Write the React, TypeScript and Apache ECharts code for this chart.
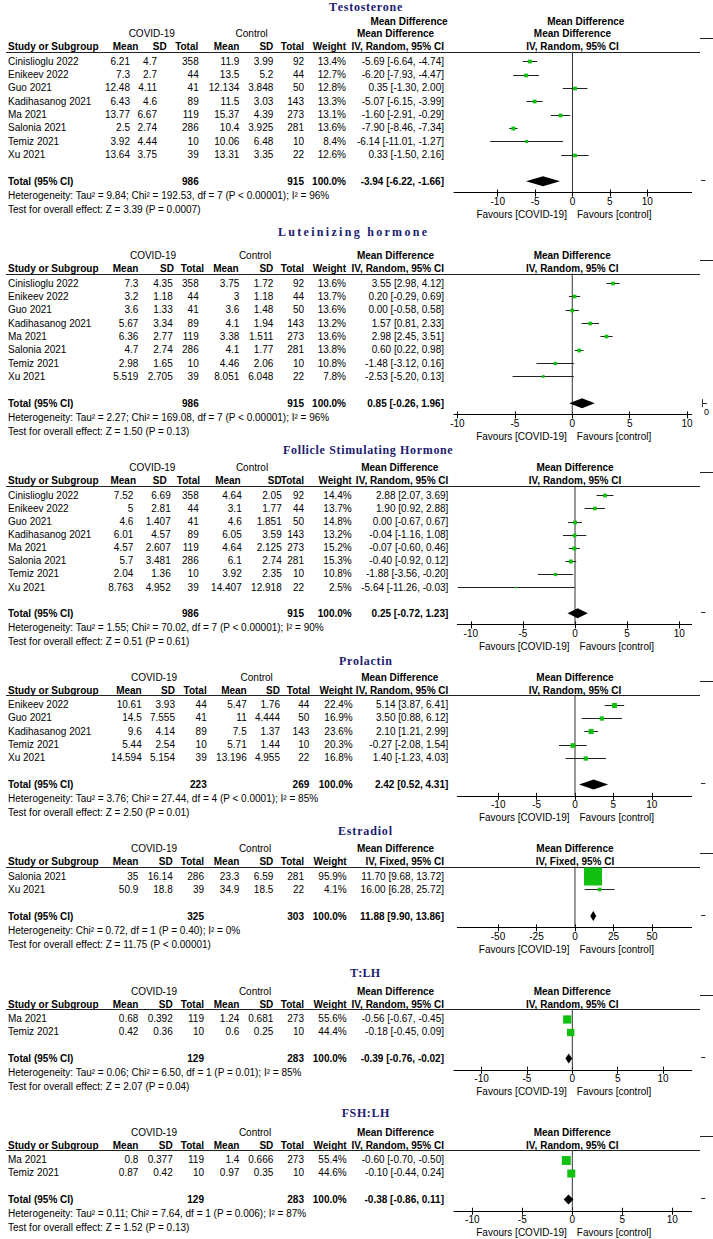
import React, { useEffect, useRef } from "react";
import * as echarts from "echarts";

// ---------------- DATA ----------------
const TICKS_10 = [-10, -5, 0, 5, 10];
const TICKS_50 = [-50, -25, 0, 25, 50];

// Testosterone
const TESTO_STUDY = ["Cinislioglu 2022", "Enikeev 2022", "Guo 2021", "Kadihasanog 2021", "Ma 2021", "Salonia 2021", "Temiz 2021", "Xu 2021"];
const TESTO_COVID = [[6.21, 4.7, 358], [7.3, 2.7, 44], [12.48, 4.11, 41], [6.43, 4.6, 89], [13.77, 6.67, 119], [2.5, 2.74, 286], [3.92, 4.44, 10], [13.64, 3.75, 39]];
const TESTO_CONTROL = [[11.9, 3.99, 92], [13.5, 5.2, 44], [12.134, 3.848, 50], [11.5, 3.03, 143], [15.37, 4.39, 273], [10.4, 3.925, 281], [10.06, 6.48, 10], [13.31, 3.35, 22]];
const TESTO_WEIGHT = [13.4, 12.7, 12.8, 13.3, 13.1, 13.6, 8.4, 12.6];
const TESTO_MD = [[-5.69, -6.64, -4.74], [-6.2, -7.93, -4.47], [0.35, -1.3, 2.0], [-5.07, -6.15, -3.99], [-1.6, -2.91, -0.29], [-7.9, -8.46, -7.34], [-6.14, -11.01, -1.27], [0.33, -1.5, 2.16]];
const TESTO_TOTAL_N = [986, 915];
const TESTO_POOLED = [-3.94, -6.22, -1.66];
const TESTO_HET = "Heterogeneity: Tau² = 9.84; Chi² = 192.53, df = 7 (P < 0.00001); I² = 96%";
const TESTO_Z = "Test for overall effect: Z = 3.39 (P = 0.0007)";

// Luteinizing hormone
const LH_STUDY = ["Cinislioglu 2022", "Enikeev 2022", "Guo 2021", "Kadihasanog 2021", "Ma 2021", "Salonia 2021", "Temiz 2021", "Xu 2021"];
const LH_COVID = [[7.3, 4.35, 358], [3.2, 1.18, 44], [3.6, 1.33, 41], [5.67, 3.34, 89], [6.36, 2.77, 119], [4.7, 2.74, 286], [2.98, 1.65, 10], [5.519, 2.705, 39]];
const LH_CONTROL = [[3.75, 1.72, 92], [3, 1.18, 44], [3.6, 1.48, 50], [4.1, 1.94, 143], [3.38, 1.511, 273], [4.1, 1.77, 281], [4.46, 2.06, 10], [8.051, 6.048, 22]];
const LH_WEIGHT = [13.6, 13.7, 13.6, 13.2, 13.6, 13.8, 10.8, 7.8];
const LH_MD = [[3.55, 2.98, 4.12], [0.2, -0.29, 0.69], [0.0, -0.58, 0.58], [1.57, 0.81, 2.33], [2.98, 2.45, 3.51], [0.6, 0.22, 0.98], [-1.48, -3.12, 0.16], [-2.53, -5.2, 0.13]];
const LH_TOTAL_N = [986, 915];
const LH_POOLED = [0.85, -0.26, 1.96];
const LH_HET = "Heterogeneity: Tau² = 2.27; Chi² = 169.08, df = 7 (P < 0.00001); I² = 96%";
const LH_Z = "Test for overall effect: Z = 1.50 (P = 0.13)";

// Follicle Stimulating Hormone
const FSH_STUDY = ["Cinislioglu 2022", "Enikeev 2022", "Guo 2021", "Kadihasanog 2021", "Ma 2021", "Salonia 2021", "Temiz 2021", "Xu 2021"];
const FSH_COVID = [[7.52, 6.69, 358], [5, 2.81, 44], [4.6, 1.407, 41], [6.01, 4.57, 89], [4.57, 2.607, 119], [5.7, 3.481, 286], [2.04, 1.36, 10], [8.763, 4.952, 39]];
const FSH_CONTROL = [[4.64, 2.05, 92], [3.1, 1.77, 44], [4.6, 1.851, 50], [6.05, 3.59, 143], [4.64, 2.125, 273], [6.1, 2.74, 281], [3.92, 2.35, 10], [14.407, 12.918, 22]];
const FSH_WEIGHT = [14.4, 13.7, 14.8, 13.2, 15.2, 15.3, 10.8, 2.5];
const FSH_MD = [[2.88, 2.07, 3.69], [1.9, 0.92, 2.88], [0.0, -0.67, 0.67], [-0.04, -1.16, 1.08], [-0.07, -0.6, 0.46], [-0.4, -0.92, 0.12], [-1.88, -3.56, -0.2], [-5.64, -11.26, -0.03]];
const FSH_TOTAL_N = [986, 915];
const FSH_POOLED = [0.25, -0.72, 1.23];
const FSH_HET = "Heterogeneity: Tau² = 1.55; Chi² = 70.02, df = 7 (P < 0.00001); I² = 90%";
const FSH_Z = "Test for overall effect: Z = 0.51 (P = 0.61)";

// Prolactin
const PRL_STUDY = ["Enikeev 2022", "Guo 2021", "Kadihasanog 2021", "Temiz 2021", "Xu 2021"];
const PRL_COVID = [[10.61, 3.93, 44], [14.5, 7.555, 41], [9.6, 4.14, 89], [5.44, 2.54, 10], [14.594, 5.154, 39]];
const PRL_CONTROL = [[5.47, 1.76, 44], [11, 4.444, 50], [7.5, 1.37, 143], [5.71, 1.44, 10], [13.196, 4.955, 22]];
const PRL_WEIGHT = [22.4, 16.9, 23.6, 20.3, 16.8];
const PRL_MD = [[5.14, 3.87, 6.41], [3.5, 0.88, 6.12], [2.1, 1.21, 2.99], [-0.27, -2.08, 1.54], [1.4, -1.23, 4.03]];
const PRL_TOTAL_N = [223, 269];
const PRL_POOLED = [2.42, 0.52, 4.31];
const PRL_HET = "Heterogeneity: Tau² = 3.76; Chi² = 27.44, df = 4 (P < 0.0001); I² = 85%";
const PRL_Z = "Test for overall effect: Z = 2.50 (P = 0.01)";

// Estradiol
const E2_STUDY = ["Salonia 2021", "Xu 2021"];
const E2_COVID = [[35, 16.14, 286], [50.9, 18.8, 39]];
const E2_CONTROL = [[23.3, 6.59, 281], [34.9, 18.5, 22]];
const E2_WEIGHT = [95.9, 4.1];
const E2_MD = [[11.7, 9.68, 13.72], [16.0, 6.28, 25.72]];
const E2_TOTAL_N = [325, 303];
const E2_POOLED = [11.88, 9.9, 13.86];
const E2_HET = "Heterogeneity: Chi² = 0.72, df = 1 (P = 0.40); I² = 0%";
const E2_Z = "Test for overall effect: Z = 11.75 (P < 0.00001)";

// T:LH
const TLH_STUDY = ["Ma 2021", "Temiz 2021"];
const TLH_COVID = [[0.68, 0.392, 119], [0.42, 0.36, 10]];
const TLH_CONTROL = [[1.24, 0.681, 273], [0.6, 0.25, 10]];
const TLH_WEIGHT = [55.6, 44.4];
const TLH_MD = [[-0.56, -0.67, -0.45], [-0.18, -0.45, 0.09]];
const TLH_TOTAL_N = [129, 283];
const TLH_POOLED = [-0.39, -0.76, -0.02];
const TLH_HET = "Heterogeneity: Tau² = 0.06; Chi² = 6.50, df = 1 (P = 0.01); I² = 85%";
const TLH_Z = "Test for overall effect: Z = 2.07 (P = 0.04)";

// FSH:LH
const FLH_STUDY = ["Ma 2021", "Temiz 2021"];
const FLH_COVID = [[0.8, 0.377, 119], [0.87, 0.42, 10]];
const FLH_CONTROL = [[1.4, 0.666, 273], [0.97, 0.35, 10]];
const FLH_WEIGHT = [55.4, 44.6];
const FLH_MD = [[-0.6, -0.7, -0.5], [-0.1, -0.44, 0.24]];
const FLH_TOTAL_N = [129, 283];
const FLH_POOLED = [-0.38, -0.86, 0.11];
const FLH_HET = "Heterogeneity: Tau² = 0.11; Chi² = 7.64, df = 1 (P = 0.006); I² = 87%";
const FLH_Z = "Test for overall effect: Z = 1.52 (P = 0.13)";

const PANELS = [
  { title: "Testosterone", study: TESTO_STUDY, covid: TESTO_COVID, control: TESTO_CONTROL, weight: TESTO_WEIGHT, md: TESTO_MD, totalN: TESTO_TOTAL_N, pooled: TESTO_POOLED, het: TESTO_HET, z: TESTO_Z, method: "IV, Random, 95% CI", ticks: TICKS_10 },
  { title: "Luteinizing hormone", study: LH_STUDY, covid: LH_COVID, control: LH_CONTROL, weight: LH_WEIGHT, md: LH_MD, totalN: LH_TOTAL_N, pooled: LH_POOLED, het: LH_HET, z: LH_Z, method: "IV, Random, 95% CI", ticks: TICKS_10 },
  { title: "Follicle Stimulating Hormone", study: FSH_STUDY, covid: FSH_COVID, control: FSH_CONTROL, weight: FSH_WEIGHT, md: FSH_MD, totalN: FSH_TOTAL_N, pooled: FSH_POOLED, het: FSH_HET, z: FSH_Z, method: "IV, Random, 95% CI", ticks: TICKS_10 },
  { title: "Prolactin", study: PRL_STUDY, covid: PRL_COVID, control: PRL_CONTROL, weight: PRL_WEIGHT, md: PRL_MD, totalN: PRL_TOTAL_N, pooled: PRL_POOLED, het: PRL_HET, z: PRL_Z, method: "IV, Random, 95% CI", ticks: TICKS_10 },
  { title: "Estradiol", study: E2_STUDY, covid: E2_COVID, control: E2_CONTROL, weight: E2_WEIGHT, md: E2_MD, totalN: E2_TOTAL_N, pooled: E2_POOLED, het: E2_HET, z: E2_Z, method: "IV, Fixed, 95% CI", ticks: TICKS_50 },
  { title: "T:LH", study: TLH_STUDY, covid: TLH_COVID, control: TLH_CONTROL, weight: TLH_WEIGHT, md: TLH_MD, totalN: TLH_TOTAL_N, pooled: TLH_POOLED, het: TLH_HET, z: TLH_Z, method: "IV, Random, 95% CI", ticks: TICKS_10 },
  { title: "FSH:LH", study: FLH_STUDY, covid: FLH_COVID, control: FLH_CONTROL, weight: FLH_WEIGHT, md: FLH_MD, totalN: FLH_TOTAL_N, pooled: FLH_POOLED, het: FLH_HET, z: FLH_Z, method: "IV, Random, 95% CI", ticks: TICKS_10 },
];

// ---------------- LAYOUT ----------------
const COLS_A = [138.3, 172.7, 204, 239.3, 273.3, 304, 346.7, 444];
const LAYOUT = [
  { titleX: 329, titleW: 72, titleY: 7, line: 51.7, rowH: 13.35, plotLeft: 454, xmin: -15.85, xmax: 15.95, k: 1.05, V: [130, 157, 198.7, 239.3, 273.3, 304, 346, 444], Hd: [138.3, 166.7, 198.3, 239.3, 273.3, 304, 346, 444], covidC: 151.7, ctrlC: 251.7, dup: true, mark: "dash" },
  { titleX: 278, titleW: 149, titleY: 231.7, line: 273.5, rowH: 13.35, plotLeft: 454, xmin: -10.3, xmax: 10.4, k: 1.0, V: [138.3, 172.7, 198.7, 239.3, 273.3, 304, 346, 444], Hd: [138.3, 174, 204, 238.7, 273.3, 304, 346, 444], covidC: 153, ctrlC: 255, dup: false, mark: "lh" },
  { titleX: 283, titleW: 169.7, titleY: 450, line: 485.8, rowH: 13.1, plotLeft: 457.3, xmin: -11.3, xmax: 11.2, k: 1.0, V: [133.3, 170.7, 198.7, 241.7, 281.7, 304, 351.7, 448.3], Hd: [136, 166.7, 200, 240.7, 281.7, 304, 351.7, 448.3], covidC: 152.3, ctrlC: 252, dup: false, mark: "dash" },
  { titleX: 339, titleW: 52.7, titleY: 660.7, line: 695, rowH: 13.35, plotLeft: 457.3, xmin: -15.33, xmax: 15.2, k: 1.05, V: [141.7, 175, 206.7, 246.7, 280, 309.3, 352.7, 448.3], Hd: [141.7, 175, 206.7, 246.7, 280, 310, 352.7, 448.3], covidC: 154, ctrlC: 256.7, dup: false, mark: "dash" },
  { titleX: 338, titleW: 54, titleY: 830.5, line: 866.5, rowH: 13.35, plotLeft: 457.3, xmin: -76.4, xmax: 75.8, k: 1.84, V: COLS_A, Hd: COLS_A, covidC: 154, ctrlC: 255, dup: false, mark: "dash" },
  { titleX: 350, titleW: 29.3, titleY: 972.7, line: 1009, rowH: 13.35, plotLeft: 454, xmin: -13.04, xmax: 13.16, k: 1.11, V: COLS_A, Hd: COLS_A, covidC: 154, ctrlC: 255, dup: false, mark: "dash" },
  { titleX: 341.7, titleW: 47.6, titleY: 1113.3, line: 1150, rowH: 13.35, plotLeft: 454, xmin: -11.83, xmax: 11.94, k: 1.2, V: COLS_A, Hd: COLS_A, covidC: 154, ctrlC: 255, dup: false, mark: "dash" },
];

const W = 713;
const H = 1239;
const PLOT_RIGHT = 691.7;
const SANS = "'Liberation Sans', Arial, sans-serif";
const SERIF = "'Liberation Serif', 'Times New Roman', serif";
const FS = 10;
const GREEN = "#12c012";
const TITLE_COLOR = "#1c1c6e";

const ciText = (m: number[]) => `${m[0].toFixed(2)} [${m[1].toFixed(2)}, ${m[2].toFixed(2)}]`;

function txt(text: string, x: number, y: number, align: string, bold = false, extra: any = {}) {
  return {
    type: "text",
    x,
    y,
    silent: true,
    style: {
      text,
      fill: extra.fill || "#000",
      fontSize: extra.fontSize || FS,
      fontFamily: extra.fontFamily || SANS,
      fontWeight: bold ? "bold" : "normal",
      align,
      textAlign: align,
      verticalAlign: "middle",
      textVerticalAlign: "middle",
    },
  };
}

function hline(x1: number, x2: number, y: number, color = "#000", w = 1) {
  const yy = Math.round(y) + 0.5;
  return { type: "line", silent: true, shape: { x1, y1: yy, x2, y2: yy }, style: { stroke: color, lineWidth: w } };
}

function buildOption() {
  const graphics: any[] = [];
  const grid: any[] = [];
  const xAxis: any[] = [];
  const yAxis: any[] = [];
  const series: any[] = [];

  const canvas = document.createElement("canvas");
  const ctx = canvas.getContext("2d") as CanvasRenderingContext2D;
  const TITLE_FS = 12;
  ctx.font = `bold ${TITLE_FS}px 'Liberation Serif'`;

  PANELS.forEach((p, pi) => {
    const L: any = LAYOUT[pi];
    const n = p.study.length;
    const rowStart = L.line + 9.5;
    const rowY = (i: number) => rowStart + i * L.rowH;
    const totalY = rowY(n + 1);
    const axisY = totalY + 11.2;
    const ymin = -9.5 / L.rowH;
    const ymax = (axisY - rowStart) / L.rowH;
    const width = PLOT_RIGHT - L.plotLeft;
    const zeroX = L.plotLeft + ((0 - L.xmin) / (L.xmax - L.xmin)) * width;

    // title, fitted to width by letter spacing
    const natural = ctx.measureText(p.title).width;
    const spacing = (L.titleW - natural) / Math.max(1, p.title.length - 1);
    let cx = L.titleX;
    for (const ch of p.title) {
      graphics.push(txt(ch, cx, L.titleY, "left", true, { fill: TITLE_COLOR, fontSize: TITLE_FS, fontFamily: SERIF }));
      cx += ctx.measureText(ch).width + spacing;
    }

    const h1 = L.line - 18;
    const h2 = L.line - 5;
    if (L.dup) {
      graphics.push(txt("Mean Difference", L.Hd[7] - 48.5 + 13.5, L.line - 30.7, "center", true));
      graphics.push(txt("Mean Difference", zeroX + 13.3, L.line - 30.7, "center", true));
    }
    graphics.push(txt("COVID-19", L.covidC, h1, "center"));
    graphics.push(txt("Control", L.ctrlC, h1, "center"));
    graphics.push(txt("Mean Difference", L.Hd[7] - 48.5, h1, "center", true));
    graphics.push(txt("Mean Difference", zeroX, h1, "center", true));

    graphics.push(txt("Study or Subgroup", 8, h2, "left", true));
    const heads = ["Mean", "SD", "Total", "Mean", "SD", "Total", "Weight"];
    heads.forEach((h, j) => graphics.push(txt(h, L.Hd[j], h2, "right", true)));
    graphics.push(txt(p.method, L.Hd[7], h2, "right", true));
    graphics.push(txt(p.method, zeroX, h2, "center", true));

    graphics.push(hline(6, 700, L.line, "#222", 1));
    graphics.push(hline(700, 713, L.line - 13.8, "#222", 1));

    p.study.forEach((s, i) => {
      const y = rowY(i);
      graphics.push(txt(s, 8, y, "left"));
      const vals = [
        String(p.covid[i][0]), String(p.covid[i][1]), String(p.covid[i][2]),
        String(p.control[i][0]), String(p.control[i][1]), String(p.control[i][2]),
        p.weight[i].toFixed(1) + "%", ciText(p.md[i]),
      ];
      vals.forEach((v, j) => graphics.push(txt(v, L.V[j], y, "right")));
    });

    graphics.push(txt("Total (95% CI)", 8, totalY, "left", true));
    graphics.push(txt(String(p.totalN[0]), L.V[2], totalY, "right", true));
    graphics.push(txt(String(p.totalN[1]), L.V[5], totalY, "right", true));
    graphics.push(txt("100.0%", L.V[6], totalY, "right", true));
    graphics.push(txt(ciText(p.pooled), L.V[7], totalY, "right", true));
    graphics.push(txt(p.het, 8, totalY + 14, "left"));
    graphics.push(txt(p.z, 8, totalY + 28, "left"));

    graphics.push(txt("Favours [COVID-19]", zeroX - 5.5, axisY + 22, "right"));
    graphics.push(txt("Favours [control]", zeroX + 4.5, axisY + 22, "left"));

    if (L.mark === "dash") {
      graphics.push(hline(701, 705.5, totalY - 1.5, "#333", 1));
    } else {
      graphics.push({ type: "line", silent: true, shape: { x1: 702.5, y1: totalY - 4, x2: 702.5, y2: totalY + 4 }, style: { stroke: "#333", lineWidth: 1 } });
      graphics.push(hline(702.5, 707, totalY, "#333", 1));
      graphics.push(txt("0", 704, totalY + 9, "left", false, { fontSize: 9 }));
    }

    grid.push({ left: L.plotLeft, top: L.line, width, height: axisY - L.line, containLabel: false });
    xAxis.push({
      gridIndex: pi, type: "value", min: L.xmin, max: L.xmax, position: "bottom",
      axisLine: { show: true, onZero: false, lineStyle: { color: "#000", width: 1 } },
      axisTick: { show: true, inside: false, length: 4, customValues: p.ticks, lineStyle: { color: "#000", width: 1 } },
      axisLabel: { show: true, customValues: p.ticks, fontSize: FS, fontFamily: SANS, color: "#000", margin: 4 },
      splitLine: { show: false },
    });
    xAxis.push({
      gridIndex: pi, type: "value", min: L.xmin, max: L.xmax, position: "bottom",
      axisLine: { show: false, onZero: false },
      axisTick: { show: true, inside: true, length: 3, customValues: p.ticks, lineStyle: { color: "#000", width: 1 } },
      axisLabel: { show: false },
      splitLine: { show: false },
    });
    yAxis.push({ gridIndex: pi, type: "value", inverse: true, min: ymin, max: ymax, show: false });

    series.push({
      type: "line", xAxisIndex: 2 * pi, yAxisIndex: pi, silent: true, symbol: "none", animation: false,
      data: [[0, ymin], [0, ymax]], lineStyle: { color: "#333", width: 1 }, z: 1,
    });

    const xmin = L.xmin, xmax = L.xmax, k = L.k;
    series.push({
      type: "custom", xAxisIndex: 2 * pi, yAxisIndex: pi, silent: true, z: 3,
      data: p.md.map((m, i) => [m[0], m[1], m[2], i, p.weight[i]]),
      encode: { x: [0, 1, 2], y: 3 },
      renderItem: (params: any, api: any) => {
        const md = api.value(0), lo = api.value(1), hi = api.value(2), row = api.value(3), w = api.value(4);
        const a = api.coord([Math.max(lo, xmin), row]);
        const b = api.coord([Math.min(hi, xmax), row]);
        const c = api.coord([md, row]);
        const s = k * Math.sqrt(w);
        const yy = Math.round(a[1]) + 0.5;
        const children: any[] = [
          { type: "line", shape: { x1: a[0], y1: yy, x2: b[0], y2: yy }, style: { stroke: "#222", lineWidth: 1 } },
        ];
        if (lo < xmin) {
          children.push({ type: "polygon", shape: { points: [[a[0], yy], [a[0] + 5, yy - 2.5], [a[0] + 5, yy + 2.5]] }, style: { fill: "#222" } });
        }
        if (hi > xmax) {
          children.push({ type: "polygon", shape: { points: [[b[0], yy], [b[0] - 5, yy - 2.5], [b[0] - 5, yy + 2.5]] }, style: { fill: "#222" } });
        }
        children.push({ type: "rect", shape: { x: c[0] - s / 2, y: yy - s / 2, width: s, height: s }, style: { fill: GREEN } });
        return { type: "group", children };
      },
    });

    series.push({
      type: "custom", xAxisIndex: 2 * pi, yAxisIndex: pi, silent: true, z: 3,
      data: [[p.pooled[0], p.pooled[1], p.pooled[2], n + 1]],
      encode: { x: [0, 1, 2], y: 3 },
      renderItem: (params: any, api: any) => {
        const row = api.value(3);
        const lo = api.coord([api.value(1), row]);
        const hi = api.coord([api.value(2), row]);
        const c = api.coord([api.value(0), row]);
        const hh = 5;
        return {
          type: "polygon",
          shape: { points: [[lo[0], c[1]], [c[0], c[1] - hh], [hi[0], c[1]], [c[0], c[1] + hh]] },
          style: { fill: "#000" },
        };
      },
    });
  });

  return {
    animation: false,
    backgroundColor: "#fff",
    grid,
    xAxis,
    yAxis,
    series,
    graphic: { elements: graphics },
  };
}

export default function App() {
  const ref = useRef<HTMLDivElement>(null);
  useEffect(() => {
    document.body.style.margin = "0";
    if (!ref.current) return;
    const chart = echarts.init(ref.current, undefined, { renderer: "svg", width: W, height: H });
    chart.setOption(buildOption() as any);
    return () => chart.dispose();
  }, []);
  return <div ref={ref} style={{ width: W, height: H, background: "#fff" }} />;
}
